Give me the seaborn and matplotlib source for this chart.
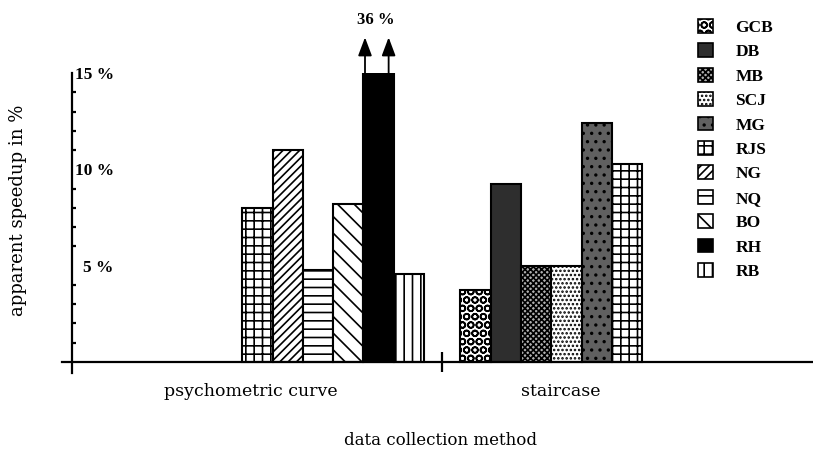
import numpy as np
import pandas as pd
import matplotlib
matplotlib.use('Agg')
import matplotlib.pyplot as plt
from matplotlib.patches import Patch
import seaborn as sns

# ---- data
groups = ['psychometric curve', 'staircase']
psych_names = ['RJS', 'NG', 'NQ', 'BO', 'RH', 'RB']
psych_values = [8.0, 11.0, 4.8, 8.2, 36.0, 4.55]
stair_names = ['GCB', 'DB', 'MB', 'SCJ', 'MG', 'RJS']
stair_values = [3.75, 9.25, 5.0, 5.0, 12.4, 10.3]
legend_order = ['GCB', 'DB', 'MB', 'SCJ', 'MG', 'RJS', 'NG', 'NQ', 'BO', 'RH', 'RB']
ytick_vals = [5, 10, 15]
ytick_labels = ['5 %', '10 %', '15 %']

# fill / hatch per subject
styles = {
	'GCB': ('white', 'OO'),
	'DB': ('#2e2e2e', ''),
	'MB': ('#b0b0b0', 'xxxxxx'),
	'SCJ': ('white', '....'),
	'MG': ('#606060', '..'),
	'RJS': ('white', '++'),
	'NG': ('white', '////'),
	'NQ': ('white', '--'),
	'BO': ('white', '\\\\'),
	'RH': ('black', ''),
	'RB': ('white', '||'),
}

# ---- layout
sns.set_theme(style='white')
plt.rcParams['font.family'] = ['DejaVu Serif']
plt.rcParams['hatch.linewidth'] = 1.2
plt.rcParams['hatch.color'] = 'black'
for k in ['text.color', 'axes.labelcolor', 'xtick.color', 'ytick.color']:
	plt.rcParams[k] = 'black'

fig = plt.figure(figsize=(8.13, 4.51), dpi=100)
ax = fig.add_axes([62 / 813, 1 - 372.6 / 451, 751 / 813, 299.6 / 451])

group_start = [5.95, 13.15]
rows = []
for gi, (names, vals) in enumerate([(psych_names, psych_values), (stair_names, stair_values)]):
	for i, (n, v) in enumerate(zip(names, vals)):
		rows.append({'pos': group_start[gi] + i + 0.5, 'name': n, 'value': v, 'group': groups[gi]})
df = pd.DataFrame(rows)

sns.barplot(data=df, x='pos', y='value', native_scale=True, width=1.0,
            color='white', edgecolor='black', linewidth=1.5, errorbar=None, ax=ax)

bars = sorted(ax.patches, key=lambda p: p.get_x())
for p, (_, r) in zip(bars, df.sort_values('pos').iterrows()):
	fc, h = styles[r['name']]
	p.set_facecolor(fc)
	p.set_hatch(h)
	p.set_edgecolor('black')

ax.set_xlim(0, 751 / 30.3)
ax.set_ylim(-0.55, 15)

# axes lines
for s in ['top', 'right']:
	ax.spines[s].set_visible(False)
ax.spines['bottom'].set_position(('data', 0))
ax.spines['left'].set_position(('data', 10 / 30.3))
for s in ['bottom', 'left']:
	ax.spines[s].set_linewidth(1.6)
	ax.spines[s].set_color('black')

# y ticks: labels sit to the right of the axis
ax.set_yticks(ytick_vals, ytick_labels)
ax.set_yticks([v for v in range(1, 15) if v % 5], minor=True)
ax.tick_params(axis='y', which='major', direction='inout', length=10, width=1.6,
               pad=-35, labelsize=12.5, color='black')
ax.tick_params(axis='y', which='minor', direction='in', length=3, width=1.6,
               left=True, color='black')
for t in ax.get_yticklabels():
	t.set_family('Liberation Serif')
	t.set_weight('bold')

# x ticks: group labels + separator
centers = [group_start[0] + 0.27, group_start[1] + 3.3]
ax.set_xticks(centers, groups)
ax.set_xticks([(group_start[0] + len(psych_names) + group_start[1]) / 2], minor=True)
ax.tick_params(axis='x', which='major', length=0, pad=15, labelsize=12.5)
ax.tick_params(axis='x', which='minor', direction='inout', length=15, width=1.6,
               bottom=True, color='black')

ax.set_xlabel('data collection method', fontsize=12)
ax.set_ylabel('apparent speedup in %', fontsize=13)
ax.xaxis.set_label_coords((440 - 62) / 751, -(432 - 372.6) / 299.6)
ax.yaxis.set_label_coords((27 - 62) / 751, (372.6 - 210) / 299.6)

# off-scale bar: arrows and true value
top = ax.get_ylim()[1]
for _, r in df[df['value'] > top].iterrows():
	for dx in (-0.45, 0.33):
		ax.annotate('', xy=(r['pos'] + dx, top + 1.85), xytext=(r['pos'] + dx, top),
		            arrowprops=dict(arrowstyle='-|>,head_length=0.8,head_width=0.3', lw=1.3,
		                            color='black', mutation_scale=14, shrinkA=0, shrinkB=0),
		            annotation_clip=False)
	ax.text(r['pos'] - 0.1, top + 2.75, f"{r['value']:.0f} %", ha='center', va='center',
	        fontsize=12, fontweight='bold', family='Liberation Serif', clip_on=False)

# legend
handles = [Patch(facecolor=styles[n][0], hatch=styles[n][1], edgecolor='black', linewidth=1.2)
           for n in legend_order]
fig.legend(handles, legend_order, loc='upper left', bbox_to_anchor=(698 / 813, 1 - 19 / 451),
           frameon=False, borderpad=0, borderaxespad=0, handlelength=0.85, handleheight=0.85,
           handletextpad=1.3, labelspacing=0.43,
           prop={'size': 12.5, 'weight': 'bold', 'family': 'Liberation Serif'})

fig.savefig('out.png', dpi=100)
